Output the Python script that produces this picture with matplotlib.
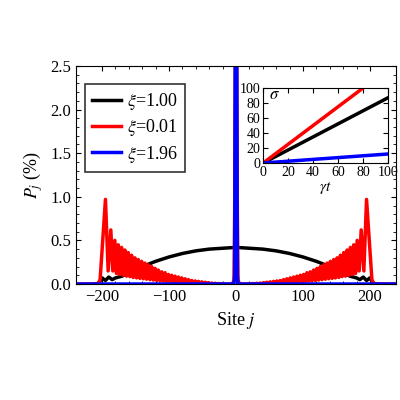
import numpy as np
import matplotlib
matplotlib.use("Agg")
from matplotlib import pyplot as plt

plt.rcParams["font.family"] = ["Liberation Serif", "DejaVu Serif"]
plt.rcParams["mathtext.fontset"] = "stix"

# right half of symmetric profiles (site, P_j in %)
black_sites = [0, 20, 40, 60, 80, 100, 120, 140, 160, 170, 180, 185, 190, 195, 200, 205, 210]
black_vals = [0.42, 0.41, 0.40, 0.38, 0.35, 0.31, 0.26, 0.20, 0.13, 0.09, 0.07, 0.05, 0.08, 0.04, 0.07, 0.01, 0.0]

red_peak_sites = [21, 26, 31, 36, 41, 46, 51, 56, 61, 66, 71, 76, 81, 86, 91, 96, 101, 106,
                  111, 116, 121, 126, 131, 136, 141, 146, 151, 156, 161, 166, 171, 176, 181, 187, 195]
red_peak_vals = [0.003, 0.005, 0.008, 0.01, 0.015, 0.02, 0.025, 0.03, 0.035, 0.04, 0.05, 0.06, 0.07,
                 0.08, 0.09, 0.10, 0.11, 0.13, 0.14, 0.16, 0.18, 0.20, 0.22, 0.24, 0.26, 0.28, 0.30,
                 0.33, 0.36, 0.39, 0.42, 0.45, 0.50, 0.62, 0.97]
red_trough_sites = [23.5, 28.5, 33.5, 38.5, 43.5, 48.5, 53.5, 58.5, 63.5, 68.5, 73.5, 78.5, 83.5,
                    88.5, 93.5, 98.5, 103.5, 108.5, 113.5, 118.5, 123.5, 128.5, 133.5, 138.5, 143.5,
                    148.5, 153.5, 158.5, 163.5, 168.5, 173.5, 178.5, 184, 191]
red_trough_vals = [0.0, 0.0, 0.0, 0.0, 0.002, 0.004, 0.005, 0.006, 0.008, 0.01, 0.012, 0.015, 0.018,
                   0.02, 0.022, 0.025, 0.03, 0.033, 0.035, 0.04, 0.045, 0.05, 0.055, 0.06, 0.065, 0.07,
                   0.075, 0.085, 0.09, 0.10, 0.11, 0.12, 0.15, 0.15]
red_center_sites = [0, 1, 2, 3, 5, 10, 18]
red_center_vals = [3.0, 2.7, 0.8, 0.05, 0.0, 0.0, 0.0]
red_edge_sites = [200, 203, 206, 240]
red_edge_vals = [0.4, 0.05, 0.0, 0.0]

blue_sites = [0, 1, 2, 3, 240]
blue_vals = [30.0, 3.0, 0.1, 0.0, 0.0]

# inset: width sigma vs gamma t
t_vals = [0, 100]
sigma_black = [0, 87]
sigma_red = [0, 125]
sigma_blue = [0, 12]


def mirror(sites, vals):
    s = np.asarray(sites, float)
    v = np.asarray(vals, float)
    return np.concatenate([-s[::-1], s]), np.concatenate([v[::-1], v])


def sorted_pts(*pairs):
    s = np.concatenate([np.asarray(p[0], float) for p in pairs])
    v = np.concatenate([np.asarray(p[1], float) for p in pairs])
    o = np.argsort(s)
    return s[o], v[o]


red_s, red_v = sorted_pts((red_center_sites, red_center_vals), (red_peak_sites, red_peak_vals),
                          (red_trough_sites, red_trough_vals), (red_edge_sites, red_edge_vals))

fig = plt.figure(figsize=(4, 4), dpi=100)
ax = fig.add_axes([0.19, 0.29, 0.80, 0.545])
ax.plot(*mirror(black_sites, black_vals), color="black", lw=2.5, label=r"$\xi$=1.00")
ax.plot(*mirror(red_s, red_v), color="red", lw=2.5, label=r"$\xi$=0.01")
ax.plot(*mirror(blue_sites, blue_vals), color="blue", lw=2.5, label=r"$\xi$=1.96")
ax.set_xlim(-239, 239)
ax.set_ylim(0, 2.5)
ax.set_xticks([-200, -100, 0, 100, 200])
ax.set_yticks(np.arange(0, 2.51, 0.5))
ax.set_xticks(np.arange(-200, 201, 20), minor=True)
ax.set_yticks(np.arange(0, 2.51, 0.1), minor=True)
ax.tick_params(direction="in", which="both", top=True, right=True, labelsize=12)
ax.set_xlabel(r"Site $j$", fontsize=13)
ax.set_ylabel(r"$P_j$ (%)", fontsize=13)
leg = ax.legend(loc="upper left", bbox_to_anchor=(0.0, 0.96), fontsize=13, frameon=True,
                fancybox=False, edgecolor="black", handlelength=1.6, borderpad=0.4,
                labelspacing=0.3, handletextpad=0.3)
leg.get_frame().set_linewidth(1.2)

ins = fig.add_axes([0.658, 0.5925, 0.312, 0.1875])
ins.plot(t_vals, sigma_black, color="black", lw=2.5)
ins.plot(t_vals, sigma_red, color="red", lw=2.5)
ins.plot(t_vals, sigma_blue, color="blue", lw=2.5)
ins.set_xlim(0, 100)
ins.set_ylim(0, 100)
ins.set_xticks(range(0, 101, 20))
ins.set_yticks(range(0, 101, 20))
ins.tick_params(direction="in", which="both", top=True, right=True, labelsize=10, pad=2)
ins.set_xlabel(r"$\gamma t$", fontsize=11, labelpad=1)
ins.text(0.05, 0.85, r"$\sigma$", transform=ins.transAxes, fontsize=12)

fig.savefig("out.png", dpi=100)
